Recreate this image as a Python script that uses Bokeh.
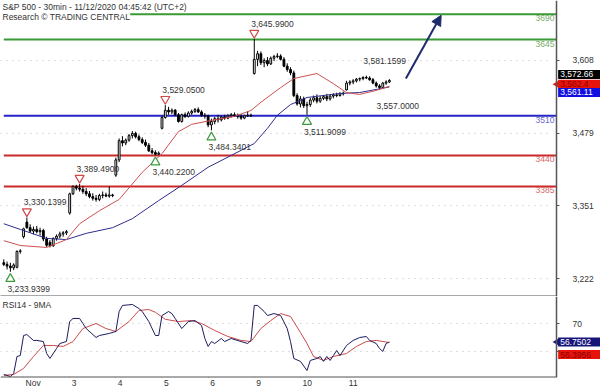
import math
from bokeh.plotting import figure
from bokeh.layouts import column
from bokeh.models import (Range1d, FixedTicker, NumeralTickFormatter, Label, Arrow,
                          NormalHead, ColumnDataSource, LinearAxis)
from bokeh.core.properties import value
from bokeh.embed import file_html
from bokeh.resources import INLINE

FONT = "Liberation Sans"

# ---------------- data ----------------
opens = [3250, 3247, 3244, 3241, 3242, 3270,
         3296, 3322, 3312, 3306, 3309, 3305, 3307, 3292, 3286, 3280, 3293, 3297, 3301, 3303,
         3338, 3372, 3385, 3382, 3380, 3376, 3372, 3367, 3364, 3362, 3369, 3370, 3368, 3370,
         3405, 3432, 3466, 3462, 3467, 3475, 3479, 3473, 3468, 3463, 3458, 3448, 3445, 3442,
         3488, 3507, 3520, 3517, 3520, 3512, 3500, 3512, 3509, 3515, 3518, 3521, 3517, 3511,
         3510, 3494, 3500, 3505, 3503, 3508, 3506, 3510, 3512, 3510, 3509, 3506, 3510, 3511,
         3585, 3610, 3620, 3604, 3608, 3602, 3612, 3615, 3616, 3610, 3598, 3592, 3586, 3546,
         3531, 3540, 3528, 3530, 3538, 3542, 3536, 3541, 3544, 3540, 3545, 3547, 3546, 3549,
         3556, 3568, 3570, 3572, 3575, 3576, 3578, 3577, 3574, 3568, 3563, 3560, 3568, 3570]
highs = [3256, 3252, 3250, 3249, 3272, 3274,
         3312, 3330.14, 3318, 3314, 3315, 3312, 3310, 3296, 3290, 3295, 3300, 3305, 3306, 3308,
         3374, 3387, 3388, 3389.49, 3386, 3382, 3377, 3373, 3370, 3372, 3376, 3374, 3385, 3372,
         3436, 3470, 3474, 3470, 3478, 3483, 3482, 3477, 3472, 3468, 3462, 3453, 3449, 3447,
         3510, 3529.05, 3526, 3523, 3522, 3515, 3514, 3516, 3518, 3521, 3524, 3525, 3520, 3515,
         3512, 3505, 3508, 3512, 3510, 3512, 3513, 3515, 3516, 3514, 3513, 3512, 3518, 3514,
         3645.99, 3625, 3624, 3612, 3614, 3615, 3618, 3621, 3619, 3614, 3603, 3596, 3590, 3550,
         3545, 3544, 3535, 3542, 3546, 3548, 3545, 3547, 3549, 3548, 3550, 3551, 3552, 3553,
         3572, 3573, 3575, 3577, 3578, 3580, 3581.16, 3580, 3577, 3571, 3566, 3570, 3573, 3575]
lows = [3244, 3238, 3233.94, 3237, 3240, 3266,
        3293, 3310, 3303, 3300, 3302, 3298, 3288, 3278, 3277, 3278, 3289, 3293, 3296, 3299,
        3335, 3370, 3378, 3376, 3372, 3368, 3364, 3360, 3358, 3359, 3364, 3366, 3365, 3366,
        3402, 3428, 3456, 3458, 3464, 3470, 3470, 3465, 3460, 3455, 3446, 3442, 3440.22, 3441,
        3486, 3505, 3512, 3513, 3510, 3498, 3498, 3506, 3507, 3512, 3515, 3515, 3508, 3505,
        3490, 3484.34, 3495, 3498, 3500, 3503, 3504, 3507, 3508, 3505, 3503, 3504, 3508, 3508,
        3583, 3598, 3600, 3596, 3598, 3600, 3607, 3612, 3608, 3596, 3588, 3582, 3543, 3528,
        3525, 3524, 3511.91, 3526, 3534, 3532, 3533, 3538, 3536, 3537, 3541, 3543, 3544, 3546,
        3555, 3564, 3566, 3569, 3571, 3573, 3575, 3572, 3566, 3560, 3557.00, 3559, 3565, 3568]
closes = [3247, 3244, 3241, 3246, 3270, 3271,
          3310, 3312, 3306, 3309, 3305, 3307, 3292, 3281, 3280, 3293, 3297, 3301, 3303, 3305,
          3372, 3385, 3382, 3380, 3376, 3372, 3367, 3364, 3362, 3369, 3370, 3368, 3370, 3369,
          3432, 3466, 3462, 3467, 3475, 3479, 3473, 3468, 3463, 3458, 3448, 3445, 3442, 3444,
          3507, 3520, 3517, 3520, 3512, 3500, 3512, 3509, 3515, 3518, 3521, 3517, 3511, 3510,
          3494, 3500, 3505, 3503, 3508, 3506, 3510, 3512, 3510, 3509, 3506, 3510, 3511, 3510,
          3610, 3620, 3604, 3608, 3602, 3612, 3615, 3616, 3610, 3598, 3592, 3586, 3546, 3531,
          3540, 3528, 3530, 3538, 3542, 3536, 3541, 3544, 3540, 3545, 3547, 3546, 3549, 3550,
          3568, 3570, 3572, 3575, 3576, 3578, 3577, 3574, 3568, 3563, 3560, 3568, 3570, 3572.66]

ma_fast_idx = [0, 5, 13, 19, 23, 29, 35, 42, 48, 53, 57, 63, 70, 75, 78, 84, 88, 95, 100, 104, 108, 113, 117]
ma_fast_val = [3289, 3280.5, 3277, 3291, 3319, 3342, 3362, 3410, 3443, 3482, 3495, 3502, 3509, 3519.5,
               3534, 3560, 3576, 3585, 3567, 3551, 3548, 3555, 3562.4]
ma_slow_idx = [0, 5, 13, 19, 25, 33, 39, 47, 54, 62, 69, 76, 80, 83, 87, 92, 102, 108, 117]
ma_slow_val = [3319, 3309, 3293, 3291, 3302, 3312, 3328, 3360, 3387, 3419, 3440, 3461, 3488, 3511,
               3530, 3542.5, 3549.6, 3551.3, 3561.11]

rsi_idx = [0, 2, 3, 4, 5, 6, 7, 9, 10, 12, 13, 14, 16, 17, 19, 20, 21, 23, 24, 25, 28, 29, 32, 34,
           35, 36, 39, 41, 42, 44, 46, 47, 48, 50, 51, 52, 54, 56, 58, 60, 61, 62, 63, 64, 66, 67,
           69, 72, 74, 75, 76, 77, 79, 80, 82, 84, 86, 87, 88, 90, 92, 93, 95, 96, 97, 98, 99, 100,
           101, 102, 104, 106, 108, 110, 111, 113, 114, 115, 116, 117]
rsi_val = [33.6, 32.1, 34.3, 46.4, 47.1, 61.4, 62.1, 57.9, 57.9, 57.1, 48.6, 45.0, 52.1, 55.7, 57.1,
           71.4, 73.6, 73.6, 70.0, 66.4, 60.0, 61.4, 62.9, 64.3, 78.6, 82.9, 83.6, 80.7, 78.6, 71.4,
           61.4, 61.4, 75.7, 78.6, 77.1, 73.6, 66.4, 71.4, 72.1, 68.6, 59.3, 53.6, 57.1, 55.7, 59.3,
           57.1, 59.3, 57.1, 55.7, 57.9, 82.9, 82.9, 78.6, 75.7, 77.1, 75.7, 66.4, 57.1, 45.0, 42.9,
           36.4, 43.6, 45.0, 46.4, 42.9, 46.4, 43.6, 47.1, 50.7, 47.1, 54.3, 57.9, 60.0, 60.7, 57.9,
           55.7, 52.1, 50.0, 55.7, 56.7502]
rsi_ma_idx = [0, 3, 6, 9, 12, 15, 18, 21, 24, 28, 31, 34, 38, 41, 44, 46, 49, 53, 57, 60, 64, 68,
              72, 75, 78, 81, 84, 87, 90, 92, 94, 97, 100, 104, 107, 110, 113, 117]
rsi_ma_val = [32.9, 33.6, 37.9, 46.4, 54.3, 54.3, 53.6, 57.1, 66.4, 70.0, 66.4, 64.3, 71.4, 79.3,
              80.0, 78.0, 73.0, 71.4, 72.1, 70.0, 65.0, 60.7, 57.9, 57.1, 66.4, 72.1, 77.1, 75.0,
              63.6, 55.7, 46.4, 43.6, 46.4, 48.6, 53.6, 57.1, 57.9, 56.3956]

pivot_idx = [2, 7, 23, 46, 49, 63, 76, 92, 110, 114]
pivot_val = [3233.9399, 3330.1399, 3389.4900, 3440.2200, 3529.0500, 3484.3401, 3645.9900,
             3511.9099, 3581.1599, 3557.0000]
pivot_kind = ["low", "high", "high", "low", "high", "low", "high", "low", "high", "low"]
pivot_marked = [True, True, True, True, True, True, True, True, False, False]

levels = [3690, 3645, 3510, 3440, 3385]
level_kind = ["res", "res", "pivot", "sup", "sup"]

day_idx = [6, 20, 34, 48, 62, 76, 90, 104]
day_labels = ["Nov", "3", "4", "5", "6", "9", "10", "11"]
price_ticks = [3222, 3351, 3479, 3608]
rsi_major = [70]
rsi_minor = [50]

title1 = "S&P 500 - 30min - 11/12/2020 04:45:42 (UTC+2)"
title2 = "Research \u00a9 TRADING CENTRAL"
rsi_title = "RSI14 - 9MA"

# ---------------- layout ----------------
W, PH, RH = 600, 296, 81
XMIN, AXIS_X = -1.0, 167.7          # value axis sits at 555 px of the 600 px frame
PX_PER_IDX = 556.0 / (AXIS_X - XMIN)
XMAX = XMIN + W / PX_PER_IDX
PMIN, PMAX = 3190.2, 3714.2
RMIN, RMAX = 31.4, 89.3
AX = "#555555"
TXT = "#333333"
FS = "8.5px"

lvl_line = {"res": "#3a9a35", "pivot": "#2424c8", "sup": "#cc2a2a"}
lvl_txt = {"res": "#7aaa68", "pivot": "#6a6acc", "sup": "#d86868"}

xr = Range1d(XMIN, XMAX)


def base_fig(h, yr):
    f = figure(frame_width=W, frame_height=h, x_range=xr, y_range=yr,
               output_backend="svg", toolbar_location=None, y_axis_location=None,
               min_border_left=0, min_border_right=0, min_border_top=0, min_border_bottom=0,
               background_fill_color="white", border_fill_color="white",
               outline_line_color=None)
    f.xgrid.visible = False
    f.ygrid.visible = False
    return f


def value_axis(f, ticker, formatter=None):
    ax = LinearAxis(fixed_location=AXIS_X, ticker=ticker)
    if formatter is not None:
        ax.formatter = formatter
    ax.axis_line_color = AX
    ax.axis_line_width = 1.5
    ax.major_tick_out = 3
    ax.major_tick_in = 0
    ax.minor_tick_out = 3
    ax.minor_tick_in = 0
    ax.major_tick_line_color = AX
    ax.minor_tick_line_color = AX
    ax.major_label_text_font = FONT
    ax.major_label_text_font_size = FS
    ax.major_label_text_color = TXT
    ax.major_label_standoff = 13
    f.add_layout(ax, "right")
    return ax


def dotted_grid(f, ticks):
    n = len(ticks)
    f.segment(x0=[XMIN] * n, x1=[AXIS_X - 2] * n, y0=ticks, y1=ticks,
              line_color="#bdbdbd", line_width=1, line_dash="1 5")


def vbox(f, yv, dy_px, ppu, txt, bg, fg, pointer=False):
    yc = yv + dy_px / ppu
    f.rect(x=[AXIS_X + 0.5 + 15], y=[yc], width=30, height=9, height_units="screen",
           fill_color=bg, line_color=None)
    if pointer:
        f.scatter(x=[AXIS_X + 0.2], y=[yc], marker="triangle", angle=math.pi / 2,
                  size=8, fill_color=bg, line_color=None)
    f.text(x=[AXIS_X + 0.5], y=[yc], text=[txt], x_offset=2, text_align="left",
           text_baseline="middle", text_font=value(FONT), text_font_size=FS, text_color=fg)


# ---------------- price panel ----------------
p = base_fig(PH, Range1d(PMIN, PMAX))
ppu = PH / (PMAX - PMIN)
value_axis(p, FixedTicker(ticks=price_ticks), NumeralTickFormatter(format="0,0"))
xa = p.xaxis[0]
xa.ticker = FixedTicker(ticks=[])
xa.major_tick_out = 0
xa.major_tick_in = 0
xa.minor_tick_out = 0
xa.minor_tick_in = 0
xa.major_label_standoff = 0
xa.axis_line_color = AX
xa.axis_line_width = 2
xa.bounds = (XMIN, AXIS_X)
dotted_grid(p, price_ticks)

# level lines
n_lv = len(levels)
p.segment(x0=[0] * n_lv, x1=[AXIS_X] * n_lv, y0=levels, y1=levels,
          line_color=[lvl_line[k] for k in level_kind], line_width=2)
p.text(x=[AXIS_X] * n_lv, y=levels, text=[str(v) for v in levels],
       x_offset=-2, y_offset=1, text_align="right", text_baseline="top",
       text_font=value(FONT), text_font_size=FS,
       text_color=[lvl_txt[k] for k in level_kind])

# candles
idx = list(range(len(closes)))
src = ColumnDataSource(dict(
    x=idx, h=highs, l=lows,
    top=[max(o, c) for o, c in zip(opens, closes)],
    bot=[min(o, c) for o, c in zip(opens, closes)],
    fill=["white" if c >= o else "black" for o, c in zip(opens, closes)]))
p.segment(x0="x", y0="h", x1="x", y1="l", source=src, line_color="black", line_width=1)
p.vbar(x="x", width=0.55, top="top", bottom="bot", source=src,
       fill_color="fill", line_color="black", line_width=1)

# moving averages
p.line(ma_slow_idx, ma_slow_val, line_color="#2e2e8c", line_width=1)
p.line(ma_fast_idx, ma_fast_val, line_color="#cc5050", line_width=1)

# pivots
hi_x = [i for i, k, m in zip(pivot_idx, pivot_kind, pivot_marked) if k == "high" and m]
hi_y = [v + 6 / ppu for v, k, m in zip(pivot_val, pivot_kind, pivot_marked) if k == "high" and m]
lo_x = [i for i, k, m in zip(pivot_idx, pivot_kind, pivot_marked) if k == "low" and m]
lo_y = [v - 7 / ppu for v, k, m in zip(pivot_val, pivot_kind, pivot_marked) if k == "low" and m]
p.scatter(hi_x, hi_y, marker="inverted_triangle", size=9, fill_color="white",
          line_color="#d04848", line_width=1.2)
p.scatter(lo_x, lo_y, marker="triangle", size=9, fill_color="white",
          line_color="#3c9a3c", line_width=1.2)
p.text(x=pivot_idx, y=pivot_val, text=[f"{v:,.4f}" for v in pivot_val],
       x_offset=-3, y_offset=[-15 if k == "high" else 17 for k in pivot_kind],
       text_align="left", text_baseline="middle",
       text_font=value(FONT), text_font_size=FS, text_color=TXT)

# forecast arrow towards the top target
last = len(closes) - 1
p.add_layout(Arrow(end=NormalHead(size=10, fill_color="#1f2a6e", line_color="#1f2a6e"),
                   x_start=last + 5, y_start=closes[-1] + 3.5,
                   x_end=last + 15.7, y_end=levels[0] - 2,
                   line_color="#1f2a6e", line_width=2))

# titles
p.add_layout(Label(x=2, y=PH - 1, x_units="screen", y_units="screen", text=title1,
                   text_baseline="top", text_font=FONT, text_font_size=FS, text_color=TXT,
                   background_fill_color="white"))
p.add_layout(Label(x=2, y=PH - 11, x_units="screen", y_units="screen", text=title2,
                   text_baseline="top", text_font=FONT, text_font_size=FS, text_color=TXT,
                   background_fill_color="white"))

# right value boxes
vbox(p, closes[-1], 6, ppu, f"{closes[-1]:,.2f}", "black", "white")
vbox(p, ma_fast_val[-1], 2, ppu, f"{ma_fast_val[-1]:,.1f}", "#e8140c", "#8a0000", pointer=True)
vbox(p, ma_slow_val[-1], -5.5, ppu, f"{ma_slow_val[-1]:,.2f}", "#1010e0", "white")

# ---------------- RSI panel ----------------
r = base_fig(RH, Range1d(RMIN, RMAX))
rppu = RH / (RMAX - RMIN)
value_axis(r, FixedTicker(ticks=rsi_major, minor_ticks=rsi_minor))
dotted_grid(r, rsi_major + rsi_minor)

# day labels (text starts just right of each day tick)
CHW = {"N": 0.722, "o": 0.556, "v": 0.5}
lab_w = [sum(CHW.get(ch, 0.556) for ch in t) * 8.5 for t in day_labels]
lab_pos = [round(d + (2 + w / 2) / PX_PER_IDX, 3) for d, w in zip(day_idx, lab_w)]
rx = r.xaxis[0]
rx.ticker = FixedTicker(ticks=lab_pos)
rx.major_label_overrides = {pos: t for pos, t in zip(lab_pos, day_labels)}
rx.major_tick_out = 0
rx.major_tick_in = 0
rx.minor_tick_out = 0
rx.minor_tick_in = 0
rx.major_label_standoff = 0
rx.major_label_text_font = FONT
rx.major_label_text_font_size = FS
rx.major_label_text_color = TXT
rx.axis_line_color = None

dax = LinearAxis(fixed_location=RMIN, ticker=FixedTicker(ticks=day_idx))
dax.major_tick_out = 4
dax.major_tick_in = 0
dax.minor_tick_out = 0
dax.minor_tick_in = 0
dax.major_tick_line_color = AX
dax.major_label_text_color = None
dax.axis_line_color = AX
dax.axis_line_width = 2
dax.bounds = (XMIN, AXIS_X)
r.add_layout(dax, "below")

r.line(rsi_ma_idx, rsi_ma_val, line_color="#cc4a4a", line_width=1)
r.line(rsi_idx, rsi_val, line_color="#1c1c5c", line_width=1)
r.add_layout(Label(x=2, y=RH - 3, x_units="screen", y_units="screen", text=rsi_title,
                   text_baseline="top", text_font=FONT, text_font_size=FS, text_color=TXT))
vbox(r, rsi_val[-1], 0, rppu, f"{rsi_val[-1]:.4f}", "#16167a", "white", pointer=True)
vbox(r, rsi_ma_val[-1], -12, rppu, f"{rsi_ma_val[-1]:.4f}", "#e8140c", "#8a0000")

layout = column(p, r)
open("out.html", "w").write(file_html(layout, INLINE))
